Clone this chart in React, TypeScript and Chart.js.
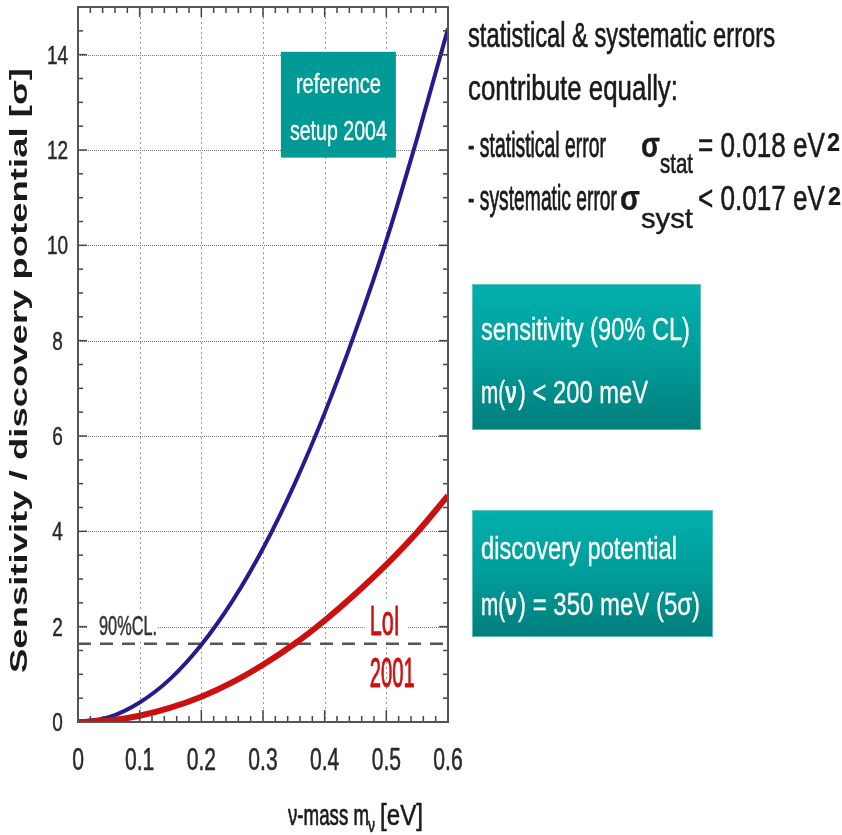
import { useEffect, useRef } from "react";
import { Chart, registerables } from "chart.js";

Chart.register(...registerables);

// neutrino mass m_ν [eV] at which the curves are sampled
const massEV = [0, 0.05, 0.1, 0.15, 0.2, 0.25, 0.3, 0.35, 0.4, 0.45, 0.5, 0.55, 0.6];
// sensitivity / discovery potential [σ], reference setup 2004
const reference2004 = [0, 0.1, 0.41, 0.91, 1.62, 2.53, 3.64, 4.96, 6.48, 8.2, 10.1, 12.25, 14.55];
// sensitivity / discovery potential [σ], LoI 2001
const loi2001 = [0, 0.03, 0.13, 0.3, 0.53, 0.83, 1.2, 1.63, 2.13, 2.69, 3.3, 3.98, 4.75];
// one-sided 90% confidence level
const cl90Level = 1.64;

const xTicks = [0, 0.1, 0.2, 0.3, 0.4, 0.5, 0.6];
const xTickLabels = ["0", "0.1", "0.2", "0.3", "0.4", "0.5", "0.6"];
const yTicks = [0, 2, 4, 6, 8, 10, 12, 14];
const yTickLabels = ["0", "2", "4", "6", "8", "10", "12", "14"];

const FONT = '"Liberation Sans", Arial, sans-serif';
const BLUE = "#261a8f";
const RED = "#cc1010";
const INK = "#1a1a1a";

type Ctx = CanvasRenderingContext2D;

// horizontally condensed text, with a thin outline in the same colour for weight
function squeezed(ctx: Ctx, text: string, x: number, y: number, font: string, sx: number, color: string, align: CanvasTextAlign = "left", weight = 0.45) {
  ctx.save();
  ctx.font = font;
  ctx.fillStyle = color;
  ctx.strokeStyle = color;
  ctx.textAlign = align;
  ctx.textBaseline = "alphabetic";
  ctx.translate(x, y);
  ctx.scale(sx, 1);
  ctx.fillText(text, 0, 0);
  if (weight > 0) {
    ctx.lineWidth = weight / sx;
    ctx.lineJoin = "round";
    ctx.strokeText(text, 0, 0);
  }
  ctx.restore();
}

function fitted(ctx: Ctx, text: string, x: number, y: number, font: string, width: number, color: string, align: CanvasTextAlign = "left", weight = 0.45) {
  ctx.save();
  ctx.font = font;
  const w = ctx.measureText(text).width;
  ctx.restore();
  squeezed(ctx, text, x, y, font, width / w, color, align, weight);
}

function line(ctx: Ctx, x1: number, y1: number, x2: number, y2: number) {
  ctx.beginPath();
  ctx.moveTo(x1, y1);
  ctx.lineTo(x2, y2);
  ctx.stroke();
}

function tealBox(ctx: Ctx, x1: number, y1: number, x2: number, y2: number) {
  const g = ctx.createLinearGradient(0, y1, 0, y2);
  g.addColorStop(0, "#00b0ad");
  g.addColorStop(0.5, "#009d9a");
  g.addColorStop(1, "#007e7c");
  ctx.fillStyle = g;
  ctx.fillRect(x1, y1, x2 - x1, y2 - y1);
  ctx.strokeStyle = "rgba(120,200,200,0.8)";
  ctx.lineWidth = 1;
  ctx.strokeRect(x1 + 0.5, y1 + 0.5, x2 - x1 - 1, y2 - y1 - 1);
}

const decorations = {
  id: "decorations",
  beforeDatasetsDraw(chart: any) {
    const { ctx, chartArea: a, scales } = chart;
    const xs = scales.x;
    const ys = scales.y;
    ctx.save();

    // dotted grid
    ctx.lineWidth = 1;
    ctx.strokeStyle = "#9a9a9a";
    ctx.setLineDash([2, 3]);
    xTicks.slice(1, -1).forEach((v) => {
      const x = Math.round(xs.getPixelForValue(v)) + 0.5;
      line(ctx, x, a.top, x, a.bottom);
    });
    ctx.strokeStyle = "#7a7a7a";
    ctx.setLineDash([1, 1]);
    yTicks.slice(1).forEach((v) => {
      const y = Math.round(ys.getPixelForValue(v)) + 0.5;
      line(ctx, a.left, y, a.right, y);
    });
    ctx.setLineDash([]);

    // "reference setup 2004" label
    const rx1 = xs.getPixelForValue(0.329);
    const rx2 = xs.getPixelForValue(0.5155);
    const ry1 = ys.getPixelForValue(14.06);
    const ry2 = ys.getPixelForValue(11.84);
    ctx.fillStyle = "#009a96";
    ctx.fillRect(rx1, ry1, rx2 - rx1, ry2 - ry1);
    const rc = (rx1 + rx2) / 2;
    fitted(ctx, "reference", rc, ry1 + 41, `28px ${FONT}`, 85, "#ffffff", "center", 0.25);
    fitted(ctx, "setup 2004", rc, ry1 + 88, `28px ${FONT}`, 97, "#ffffff", "center", 0.25);

    // 90% CL label
    const clY = ys.getPixelForValue(2);
    ctx.fillStyle = "#ffffff";
    ctx.fillRect(a.left + 9, clY - 17, 71, 14 + 17);
    fitted(ctx, "90%CL.", a.left + 21, clY + 8, `28px ${FONT}`, 58, "#333333", "left", 0.3);

    // LoI 2001 label
    const lx = xs.getPixelForValue(0.473);
    ctx.fillStyle = "#ffffff";
    ctx.fillRect(lx - 5, clY - 26, 43, 40);
    fitted(ctx, "LoI", lx, clY + 8, `42px ${FONT}`, 30, RED);
    fitted(ctx, "2001", lx, clY + 60, `42px ${FONT}`, 45, RED);

    ctx.restore();
  },
  afterDatasetsDraw(chart: any) {
    const { ctx, chartArea: a, scales } = chart;
    const xs = scales.x;
    const ys = scales.y;
    ctx.save();

    // inward tick marks on all four sides
    ctx.strokeStyle = "#444444";
    ctx.lineWidth = 1.5;
    for (let i = 0; i <= 30; i++) {
      const x = xs.getPixelForValue(i * 0.02);
      const major = i % 5 === 0;
      line(ctx, x, a.bottom, x, a.bottom - (major ? 12 : 6));
      line(ctx, x, a.top, x, a.top + (major ? 10 : 6));
    }
    for (let i = 0; i <= 30; i++) {
      const y = ys.getPixelForValue(i * 0.5);
      const major = i % 4 === 0;
      line(ctx, a.left, y, a.left + (major ? 9 : 5), y);
      line(ctx, a.right, y, a.right - (major ? 9 : 5), y);
    }

    // frame
    ctx.strokeStyle = "#555555";
    ctx.lineWidth = 2;
    ctx.strokeRect(a.left, a.top, a.right - a.left, a.bottom - a.top);

    // tick labels
    xTicks.forEach((v, i) => {
      squeezed(ctx, xTickLabels[i], xs.getPixelForValue(v), a.bottom + 48, `32px ${FONT}`, 0.66, "#2a2a2a", "center", 0.35);
    });
    yTicks.forEach((v, i) => {
      squeezed(ctx, yTickLabels[i], a.left - 20.5, ys.getPixelForValue(v) + 9, `25px ${FONT}`, 0.76, "#2a2a2a", "center", 0.35);
    });

    // x axis title
    const tb = a.bottom + 103;
    fitted(ctx, "ν-mass m", 288, tb, `30px ${FONT}`, 81, INK);
    fitted(ctx, "ν", 368, tb + 7, `20px ${FONT}`, 7, INK);
    fitted(ctx, "[eV]", 380, tb, `30px ${FONT}`, 43, INK);

    // y axis title
    ctx.save();
    ctx.translate(27, 673);
    ctx.rotate(-Math.PI / 2);
    fitted(ctx, "Sensitivity / discovery potential [σ]", 0, 0, `bold 24px ${FONT}`, 605, INK, "left", 0);
    ctx.restore();

    ctx.restore();
  },
  afterDraw(chart: any) {
    const { ctx } = chart;
    ctx.save();
    const F34 = `35px ${FONT}`;
    const B34 = `bold 35px ${FONT}`;
    const S28 = `28px ${FONT}`;
    const B24 = `bold 26px ${FONT}`;

    fitted(ctx, "statistical & systematic errors", 468, 47, F34, 307, INK);
    fitted(ctx, "contribute equally:", 468, 100, F34, 210, INK);

    fitted(ctx, "- statistical error", 468, 157, F34, 138, INK);
    fitted(ctx, "σ", 641, 157, B34, 19, INK, "left", 0.2);
    fitted(ctx, "stat", 660, 173, S28, 33, INK);
    fitted(ctx, "= 0.018 eV", 698, 157, F34, 127, INK);
    fitted(ctx, "2", 827, 151, B24, 13, INK, "left", 0.2);

    fitted(ctx, "- systematic error", 468, 210, F34, 149, INK);
    fitted(ctx, "σ", 620, 210, B34, 20, INK, "left", 0.2);
    fitted(ctx, "syst", 641, 228, S28, 52, INK);
    fitted(ctx, "< 0.017 eV", 698, 210, F34, 127, INK);
    fitted(ctx, "2", 828, 205, B24, 13, INK, "left", 0.2);

    // result boxes
    const F30 = `31px ${FONT}`;
    const B30 = `bold 31px ${FONT}`;
    const W = 0.25;
    tealBox(ctx, 472, 284, 701, 430);
    fitted(ctx, "sensitivity (90% CL)", 481, 340, F30, 209, "#ffffff", "left", W);
    fitted(ctx, "m(", 481, 403, F30, 24, "#ffffff", "left", W);
    fitted(ctx, "ν", 505, 403, B30, 12, "#ffffff", "left", 0.1);
    fitted(ctx, ") < 200 meV", 518, 403, F30, 130, "#ffffff", "left", W);

    tealBox(ctx, 472, 510, 713, 637);
    fitted(ctx, "discovery potential", 481, 559, F30, 196, "#ffffff", "left", W);
    fitted(ctx, "m(", 481, 615, F30, 24, "#ffffff", "left", W);
    fitted(ctx, "ν", 505, 615, B30, 12, "#ffffff", "left", 0.1);
    fitted(ctx, ") = 350 meV (5σ)", 518, 615, F30, 182, "#ffffff", "left", W);

    ctx.restore();
  },
};

export default function App() {
  const canvasRef = useRef<HTMLCanvasElement>(null);

  useEffect(() => {
    const canvas = canvasRef.current;
    if (!canvas) return;
    const chart = new Chart(canvas, {
      type: "line",
      data: {
        datasets: [
          {
            label: "LoI 2001",
            data: massEV.map((m, i) => ({ x: m, y: loi2001[i] })),
            borderColor: RED,
            borderWidth: 6,
            pointRadius: 0,
            cubicInterpolationMode: "monotone",
            order: 1,
          },
          {
            label: "reference setup 2004",
            data: massEV.map((m, i) => ({ x: m, y: reference2004[i] })),
            borderColor: BLUE,
            borderWidth: 4,
            pointRadius: 0,
            cubicInterpolationMode: "monotone",
            order: 2,
          },
          {
            label: "90% CL",
            data: [
              { x: xTicks[0], y: cl90Level },
              { x: xTicks[xTicks.length - 1], y: cl90Level },
            ],
            borderColor: "#555555",
            borderWidth: 2.5,
            borderDash: [13, 9],
            pointRadius: 0,
            order: 3,
          },
        ],
      },
      options: {
        animation: false,
        responsive: false,
        devicePixelRatio: 1,
        layout: { padding: { left: 78, right: 394, top: 7, bottom: 113 } },
        plugins: { legend: { display: false }, tooltip: { enabled: false } },
        scales: {
          x: { type: "linear", min: 0, max: 0.6, display: false },
          y: { type: "linear", min: 0, max: 15, display: false },
        },
      },
      plugins: [decorations],
    } as any);
    return () => chart.destroy();
  }, []);

  return (
    <div style={{ position: "fixed", left: 0, top: 0, width: 842, height: 835, background: "#ffffff" }}>
      <canvas ref={canvasRef} width={842} height={835} style={{ display: "block", width: 842, height: 835 }} />
    </div>
  );
}
